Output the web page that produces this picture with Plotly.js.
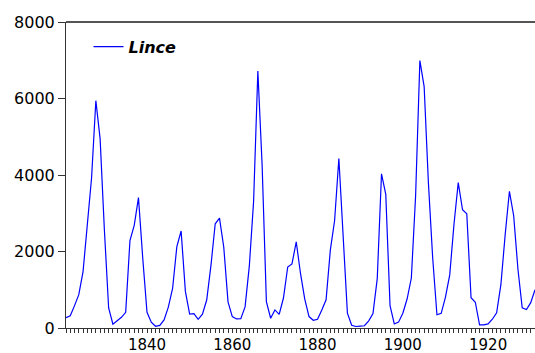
<!DOCTYPE html>
<html>
<head>
<meta charset="utf-8">
<script src="https://cdn.plot.ly/plotly-3.0.1.min.js"></script>
<style>
  html, body { margin: 0; padding: 0; background: #fff; }
  #chart { width: 535px; height: 353px; }
</style>
</head>
<body>
<div id="chart"></div>
<script>
// Annual lynx trappings, 1821-1931
const firstYear = 1821;
const lince = [
  269, 321, 585, 871, 1475, 2821, 3928, 5943, 4950, 2577,
  523, 98, 184, 279, 409, 2285, 2685, 3409, 1824, 409,
  151, 45, 68, 213, 546, 1033, 2129, 2536, 957, 361,
  377, 225, 360, 731, 1638, 2725, 2871, 2119, 684, 299,
  236, 245, 552, 1623, 3311, 6721, 4254, 687, 255, 473,
  358, 784, 1594, 1676, 2251, 1426, 756, 299, 201, 229,
  469, 736, 2042, 2811, 4431, 2511, 389, 73, 39, 49,
  59, 188, 377, 1292, 4031, 3495, 587, 105, 153, 387,
  758, 1307, 3465, 6991, 6313, 3794, 1836, 345, 382, 808,
  1388, 2713, 3800, 3091, 2985, 790, 674, 81, 80, 108,
  229, 399, 1132, 2432, 3574, 2935, 1537, 529, 485, 662,
  1000
];
const years = lince.map((_, i) => firstYear + i);

// Axis ticks: long marks every five years, labels every twenty
const majorTickYears = [1825, 1830, 1835, 1840, 1845, 1850, 1855, 1860, 1865, 1870,
  1875, 1880, 1885, 1890, 1895, 1900, 1905, 1910, 1915, 1920, 1925, 1930];
const labelledYears = [1840, 1860, 1880, 1900, 1920];
const yTickVals = [0, 2000, 4000, 6000, 8000];
const xRange = [1821, 1931];

const fontFamily = 'DejaVu Sans, Arial, sans-serif';

const trace = {
  x: years,
  y: lince,
  type: 'scatter',
  mode: 'lines',
  name: '<b><i>Lince</i></b>',
  line: { color: '#0000ff', width: 1.2 },
  hoverinfo: 'x+y'
};

const layout = {
  width: 535,
  height: 353,
  margin: { l: 66, r: 0, t: 22, b: 25 },
  paper_bgcolor: '#fff',
  plot_bgcolor: '#fff',
  showlegend: true,
  legend: {
    x: 0.048, y: 0.975, xanchor: 'left', yanchor: 'top',
    bgcolor: 'rgba(0,0,0,0)', borderwidth: 0,
    font: { family: fontFamily, size: 16, color: '#000' }
  },
  // labelled axis with a short tick for every year
  xaxis: {
    range: xRange,
    showgrid: false,
    zeroline: false,
    showline: true,
    linecolor: '#333',
    linewidth: 1,
    ticks: 'outside',
    ticklen: 0,
    tickcolor: '#333',
    tickmode: 'array',
    tickvals: labelledYears,
    ticktext: labelledYears.map(String),
    ticklabelstandoff: 3,
    tickfont: { family: fontFamily, size: 15, color: '#000' },
    minor: { tickmode: 'linear', tick0: firstYear, dtick: 1, ticks: 'outside', ticklen: 4, tickwidth: 1, tickcolor: '#333', showgrid: false }
  },
  // longer five-year marks drawn on an overlaid copy of the x axis
  xaxis2: {
    overlaying: 'x',
    anchor: 'y',
    side: 'bottom',
    range: xRange,
    showgrid: false,
    zeroline: false,
    showline: false,
    ticks: 'outside',
    ticklen: 7,
    tickwidth: 1,
    tickcolor: '#333',
    tickmode: 'array',
    tickvals: majorTickYears,
    showticklabels: false
  },
  yaxis: {
    range: [0, 8000],
    showgrid: false,
    zeroline: false,
    showline: true,
    linecolor: '#333',
    linewidth: 1,
    ticks: 'outside',
    ticklen: 7,
    tickwidth: 1,
    tickcolor: '#333',
    tickmode: 'array',
    tickvals: yTickVals,
    ticktext: yTickVals.map(String),
    tickfont: { family: fontFamily, size: 16, color: '#000' }
  },
  shapes: [{
    type: 'line', xref: 'paper', yref: 'paper',
    x0: 0, x1: 1, y0: 1, y1: 1,
    line: { color: '#555', width: 2 }
  }]
};

Plotly.newPlot('chart', [trace], layout, { staticPlot: true, displayModeBar: false });
</script>
</body>
</html>
